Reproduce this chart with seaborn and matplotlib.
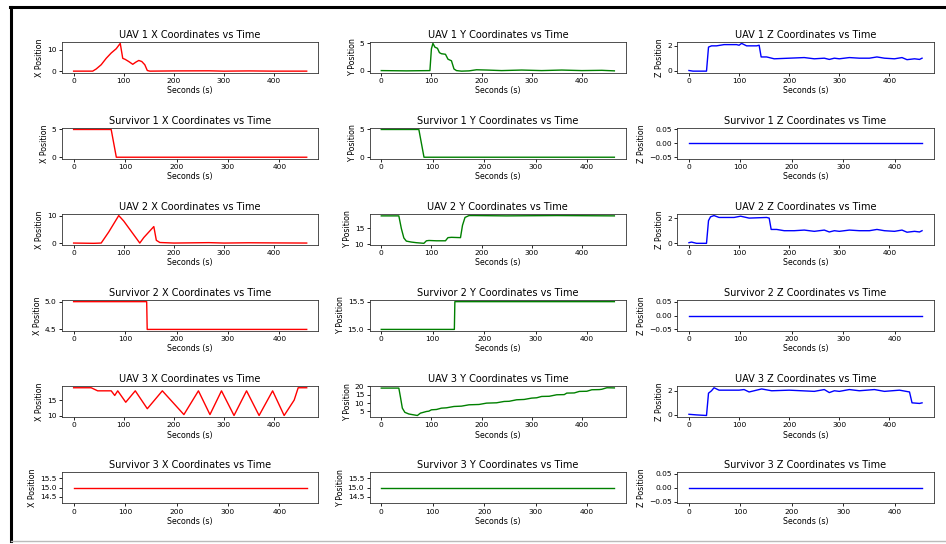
import seaborn as sns
import numpy as np
from matplotlib import pyplot as plt
from matplotlib.lines import Line2D

# ---- data (time in seconds, position) ----
uav1_x_t = [0, 38, 45, 55, 65, 75, 85, 93, 98, 103, 110, 118, 124, 130, 136, 142, 147, 152, 200, 270, 300, 350, 400, 465]
uav1_x = [0, 0, 1, 3, 6, 8.5, 10.5, 13, 6, 5.5, 4.5, 3.2, 4.2, 5, 4.5, 3, 0.3, 0, 0.1, 0.15, 0, 0.1, 0, 0]
uav1_y_t = [0, 50, 97, 100, 103, 107, 112, 116, 120, 128, 133, 140, 145, 150, 160, 175, 190, 210, 240, 280, 320, 360, 400, 440, 465]
uav1_y = [0, -0.05, 0, 4, 5, 4.3, 4.1, 3.3, 3.1, 3, 2.1, 1.8, 0.3, 0, -0.1, -0.05, 0.15, 0.1, 0, 0.1, 0, 0.1, 0, 0.05, -0.05]
uav1_z_t = [0, 8, 35, 39, 45, 55, 70, 95, 100, 105, 115, 135, 140, 144, 155, 170, 200, 230, 250, 270, 280, 290, 300, 320, 340, 360, 375, 390, 410, 425, 435, 450, 460, 465]
uav1_z = [0, -0.05, -0.05, 1.9, 2.0, 2.0, 2.1, 2.1, 2.05, 2.2, 2.0, 2.0, 2.05, 1.1, 1.1, 0.95, 1.0, 1.05, 0.95, 1.0, 0.9, 1.0, 0.95, 1.05, 1.0, 1.0, 1.1, 1.0, 0.95, 1.05, 0.88, 0.95, 0.9, 1.0]

uav2_x_t = [0, 40, 55, 70, 80, 90, 100, 110, 120, 132, 140, 150, 160, 165, 172, 200, 270, 300, 350, 400, 465]
uav2_x = [0, -0.1, 0, 4, 7, 10, 8, 5.5, 3, 0, 2, 4, 6, 1, 0.2, 0, 0.15, 0, 0.1, 0.05, 0]
uav2_y_t = [0, 35, 40, 45, 50, 60, 70, 85, 90, 95, 110, 128, 133, 140, 158, 162, 167, 175, 185, 250, 350, 465]
uav2_y = [19, 19, 15, 12, 11, 10.7, 10.5, 10.3, 11.1, 11.2, 11.1, 11.1, 12.1, 12.2, 12.1, 16, 18.5, 19.1, 19.1, 19, 19.1, 19]
uav2_z_t = [0, 5, 15, 35, 39, 43, 50, 60, 90, 103, 120, 155, 160, 164, 175, 190, 210, 230, 250, 270, 280, 290, 300, 320, 340, 360, 375, 390, 410, 425, 435, 450, 460, 465]
uav2_z = [0.05, 0.1, 0, 0, 1.8, 2.1, 2.2, 2.05, 2.05, 2.15, 2.0, 2.05, 2.0, 1.1, 1.1, 1.0, 1.0, 1.05, 0.95, 1.05, 0.9, 1.0, 0.95, 1.05, 1.0, 1.0, 1.1, 1.0, 0.95, 1.05, 0.88, 0.95, 0.9, 1.0]

uav3_x_t = [0, 35, 48, 75, 82, 88, 104, 123, 147, 177, 220, 249, 272, 295, 320, 345, 370, 397, 420, 440, 448, 465]
uav3_x = [19, 19, 18, 18, 16.5, 18, 14.3, 18, 12.2, 18, 10.3, 18, 10.3, 18, 10, 18, 10, 18, 10, 15, 19, 19]
uav3_y_t = [0, 35, 38, 42, 47, 55, 72, 78, 90, 95, 100, 110, 120, 130, 145, 160, 175, 195, 210, 230, 245, 255, 270, 285, 300, 310, 320, 335, 350, 365, 370, 385, 395, 410, 420, 435, 440, 450, 465]
uav3_y = [19, 19, 14, 7, 4.5, 3.5, 2.6, 4, 5, 5.2, 6, 6.2, 7, 7.2, 8, 8.2, 9, 9.2, 10, 10.2, 11, 11.1, 12, 12.2, 13, 13.2, 14, 14.1, 15, 15.1, 16, 16.1, 17, 17.1, 18, 18.1, 18.3, 19.2, 19.1]
uav3_z_t = [0, 15, 35, 39, 45, 50, 60, 100, 110, 120, 145, 165, 200, 250, 270, 280, 290, 300, 320, 340, 370, 390, 420, 440, 445, 460, 465]
uav3_z = [0.05, 0, -0.05, 1.8, 2.0, 2.25, 2.05, 2.05, 2.1, 1.9, 2.15, 2.0, 2.05, 1.95, 2.1, 1.85, 2.0, 1.95, 2.1, 2.0, 2.1, 1.95, 2.05, 1.9, 1.0, 0.95, 1.0]

surv1_t = [0, 73, 83, 453]
surv1_x = [5, 5, 0, 0]
surv1_y = [5, 5, 0, 0]
surv2_t = [0, 142, 143, 453]
surv2_x = [5.0, 5.0, 4.5, 4.5]
surv2_y = [15.0, 15.0, 15.5, 15.5]
surv3_t = [0, 453]
surv3_x = [15, 15]
surv3_y = [15, 15]
surv_z = [0, 0]

rows = [
    ('UAV 1', (uav1_x_t, uav1_x), (uav1_y_t, uav1_y), (uav1_z_t, uav1_z)),
    ('Survivor 1', (surv1_t, surv1_x), (surv1_t, surv1_y), ([0, 453], surv_z)),
    ('UAV 2', (uav2_x_t, uav2_x), (uav2_y_t, uav2_y), (uav2_z_t, uav2_z)),
    ('Survivor 2', (surv2_t, surv2_x), (surv2_t, surv2_y), ([0, 453], surv_z)),
    ('UAV 3', (uav3_x_t, uav3_x), (uav3_y_t, uav3_y), (uav3_z_t, uav3_z)),
    ('Survivor 3', (surv3_t, surv3_x), (surv3_t, surv3_y), ([0, 453], surv_z)),
]
axis_names = ['X', 'Y', 'Z']
colors = ['red', 'green', 'blue']

plt.rcParams['font.family'] = ['DejaVu Sans']
plt.rcParams['axes.linewidth'] = 0.6
plt.rcParams['xtick.major.size'] = 2
plt.rcParams['ytick.major.size'] = 2
plt.rcParams['xtick.major.width'] = 0.6
plt.rcParams['ytick.major.width'] = 0.6
plt.rcParams['xtick.major.pad'] = 2
plt.rcParams['ytick.major.pad'] = 2

fig, axs = plt.subplots(6, 3, figsize=(9.46, 5.44), dpi=100)
fig.subplots_adjust(left=0.0655, right=0.987, top=0.9228, bottom=0.0754, wspace=0.2, hspace=1.82)

for r, (name, *series) in enumerate(rows):
    for c, (t, v) in enumerate(series):
        ax = axs[r, c]
        sns.lineplot(x=t, y=v, ax=ax, color=colors[c], linewidth=1.0)
        ax.set_title(f'{name} {axis_names[c]} Coordinates vs Time', fontsize=7, pad=3)
        ax.set_xlabel('Seconds (s)', fontsize=5.7, labelpad=1.5)
        ax.set_ylabel(f'{axis_names[c]} Position', fontsize=5.7, labelpad=2)
        ax.set_xticks([0, 100, 200, 300, 400])
        ax.tick_params(labelsize=5.4)
        for s in ax.spines.values():
            s.set_color('#333333')

# y ticks the default locator picked at the original size
axs[4, 1].set_yticks([5, 10, 15, 20])

# window frame visible in the screenshot
fig.add_artist(Line2D([9.5 / 946, 1], [1 - 7 / 544, 1 - 7 / 544], color='black', linewidth=2.2))
fig.add_artist(Line2D([10.5 / 946, 10.5 / 946], [1 - 7 / 544, 1 - 541 / 544], color='black', linewidth=2.2))
fig.add_artist(Line2D([11 / 946, 1], [1 - 541 / 544, 1 - 541 / 544], color='#bbbbbb', linewidth=1))

fig.savefig('out.png', dpi=100)
